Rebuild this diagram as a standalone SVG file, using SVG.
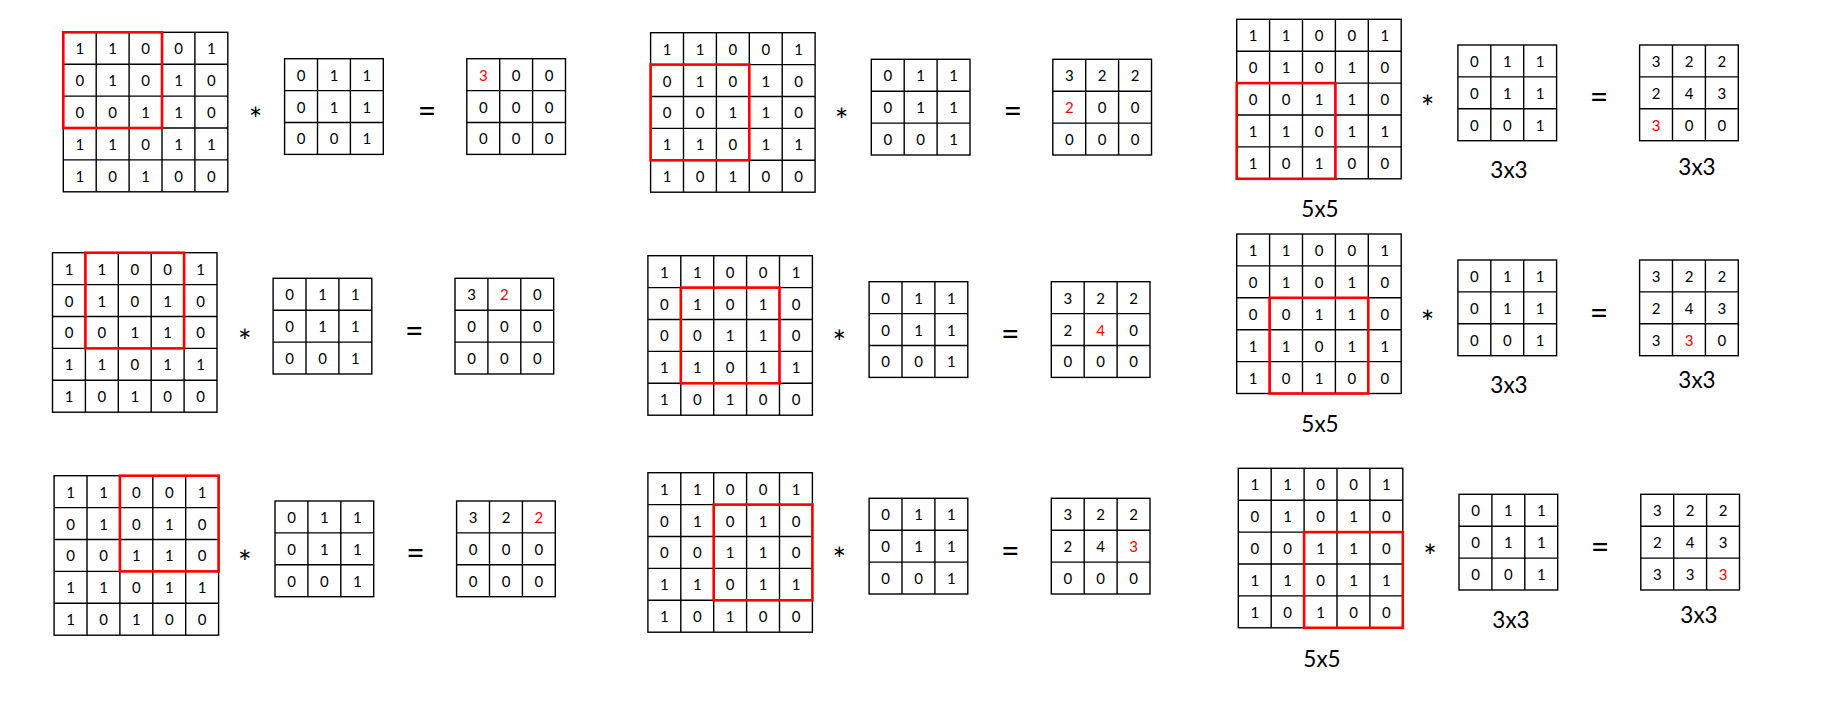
<svg xmlns="http://www.w3.org/2000/svg" xmlns:xlink="http://www.w3.org/1999/xlink" width="1845" height="705" viewBox="0 0 1845 705">
<style>
.grid rect{fill:#fff;stroke:#000;stroke-width:1.4}
.grid path{fill:none;stroke:#000;stroke-width:1.4}
.d text{font-family:Lato,"Open Sans","Liberation Sans",sans-serif;font-size:15px;text-anchor:middle;fill:#000}
.d text.r{fill:#ff0000}
.win{fill:none;stroke:#ff0000;stroke-width:2.6}
.op{font-family:Lato,"Open Sans","Liberation Sans",sans-serif;text-anchor:middle;fill:#000}
.ast{font-size:32px}
.eq{font-size:32px}
.lbl{font-family:Lato,"Open Sans","Liberation Sans",sans-serif;font-size:22.5px;text-anchor:middle;fill:#000}
</style>
<defs>
<g id="g5" class="grid"><rect width="164.5" height="159.5"/><path d="M32.9 0V159.5M65.8 0V159.5M98.7 0V159.5M131.6 0V159.5M0 31.9H164.5M0 63.8H164.5M0 95.7H164.5M0 127.6H164.5"/></g>
<g id="g3" class="grid"><rect width="98.7" height="95.7"/><path d="M32.9 0V95.7M65.8 0V95.7M0 31.9H98.7M0 63.8H98.7"/></g>
</defs>
<rect width="1845" height="705" fill="#fff"/>

<!-- Row 1, Step 1 -->
<g id="step-r1c1">
<g id="in-r1c1" transform="translate(63.3,32.3)"><use xlink:href="#g5"/><g class="d">
<text x="16.5" y="22">1</text><text x="49.4" y="22">1</text><text x="82.3" y="22">0</text><text x="115.2" y="22">0</text><text x="148.1" y="22">1</text>
<text x="16.5" y="53.9">0</text><text x="49.4" y="53.9">1</text><text x="82.3" y="53.9">0</text><text x="115.2" y="53.9">1</text><text x="148.1" y="53.9">0</text>
<text x="16.5" y="85.8">0</text><text x="49.4" y="85.8">0</text><text x="82.3" y="85.8">1</text><text x="115.2" y="85.8">1</text><text x="148.1" y="85.8">0</text>
<text x="16.5" y="117.7">1</text><text x="49.4" y="117.7">1</text><text x="82.3" y="117.7">0</text><text x="115.2" y="117.7">1</text><text x="148.1" y="117.7">1</text>
<text x="16.5" y="149.6">1</text><text x="49.4" y="149.6">0</text><text x="82.3" y="149.6">1</text><text x="115.2" y="149.6">0</text><text x="148.1" y="149.6">0</text>
</g><rect class="win" x="0" y="0" width="98.7" height="95.7"/></g>
<text class="op ast" x="255.5" y="131.2">*</text>
<g id="k-r1c1" transform="translate(284.6,58.7)"><use xlink:href="#g3"/><g class="d">
<text x="16.5" y="22">0</text><text x="49.4" y="22">1</text><text x="82.3" y="22">1</text>
<text x="16.5" y="53.9">0</text><text x="49.4" y="53.9">1</text><text x="82.3" y="53.9">1</text>
<text x="16.5" y="85.8">0</text><text x="49.4" y="85.8">0</text><text x="82.3" y="85.8">1</text>
</g></g>
<text class="op eq" x="427" y="121.5">=</text>
<g id="out-r1c1" transform="translate(466.8,58.7)"><use xlink:href="#g3"/><g class="d">
<text class="r" x="16.5" y="22">3</text><text x="49.4" y="22">0</text><text x="82.3" y="22">0</text>
<text x="16.5" y="53.9">0</text><text x="49.4" y="53.9">0</text><text x="82.3" y="53.9">0</text>
<text x="16.5" y="85.8">0</text><text x="49.4" y="85.8">0</text><text x="82.3" y="85.8">0</text>
</g></g>
</g>

<!-- Row 1, Step 2 -->
<g id="step-r1c2">
<g id="in-r1c2" transform="translate(650.6,32.7)"><use xlink:href="#g5"/><g class="d">
<text x="16.5" y="22">1</text><text x="49.4" y="22">1</text><text x="82.3" y="22">0</text><text x="115.2" y="22">0</text><text x="148.1" y="22">1</text>
<text x="16.5" y="53.9">0</text><text x="49.4" y="53.9">1</text><text x="82.3" y="53.9">0</text><text x="115.2" y="53.9">1</text><text x="148.1" y="53.9">0</text>
<text x="16.5" y="85.8">0</text><text x="49.4" y="85.8">0</text><text x="82.3" y="85.8">1</text><text x="115.2" y="85.8">1</text><text x="148.1" y="85.8">0</text>
<text x="16.5" y="117.7">1</text><text x="49.4" y="117.7">1</text><text x="82.3" y="117.7">0</text><text x="115.2" y="117.7">1</text><text x="148.1" y="117.7">1</text>
<text x="16.5" y="149.6">1</text><text x="49.4" y="149.6">0</text><text x="82.3" y="149.6">1</text><text x="115.2" y="149.6">0</text><text x="148.1" y="149.6">0</text>
</g><rect class="win" x="0" y="31.9" width="98.7" height="95.7"/></g>
<text class="op ast" x="841.5" y="132.2">*</text>
<g id="k-r1c2" transform="translate(871.3,59.3)"><use xlink:href="#g3"/><g class="d">
<text x="16.5" y="22">0</text><text x="49.4" y="22">1</text><text x="82.3" y="22">1</text>
<text x="16.5" y="53.9">0</text><text x="49.4" y="53.9">1</text><text x="82.3" y="53.9">1</text>
<text x="16.5" y="85.8">0</text><text x="49.4" y="85.8">0</text><text x="82.3" y="85.8">1</text>
</g></g>
<text class="op eq" x="1012.7" y="122.2">=</text>
<g id="out-r1c2" transform="translate(1052.8,59.3)"><use xlink:href="#g3"/><g class="d">
<text x="16.5" y="22">3</text><text x="49.4" y="22">2</text><text x="82.3" y="22">2</text>
<text class="r" x="16.5" y="53.9">2</text><text x="49.4" y="53.9">0</text><text x="82.3" y="53.9">0</text>
<text x="16.5" y="85.8">0</text><text x="49.4" y="85.8">0</text><text x="82.3" y="85.8">0</text>
</g></g>
</g>

<!-- Row 1, Step 3 -->
<g id="step-r1c3">
<g id="in-r1c3" transform="translate(1236.7,19.3)"><use xlink:href="#g5"/><g class="d">
<text x="16.5" y="22">1</text><text x="49.4" y="22">1</text><text x="82.3" y="22">0</text><text x="115.2" y="22">0</text><text x="148.1" y="22">1</text>
<text x="16.5" y="53.9">0</text><text x="49.4" y="53.9">1</text><text x="82.3" y="53.9">0</text><text x="115.2" y="53.9">1</text><text x="148.1" y="53.9">0</text>
<text x="16.5" y="85.8">0</text><text x="49.4" y="85.8">0</text><text x="82.3" y="85.8">1</text><text x="115.2" y="85.8">1</text><text x="148.1" y="85.8">0</text>
<text x="16.5" y="117.7">1</text><text x="49.4" y="117.7">1</text><text x="82.3" y="117.7">0</text><text x="115.2" y="117.7">1</text><text x="148.1" y="117.7">1</text>
<text x="16.5" y="149.6">1</text><text x="49.4" y="149.6">0</text><text x="82.3" y="149.6">1</text><text x="115.2" y="149.6">0</text><text x="148.1" y="149.6">0</text>
</g><rect class="win" x="0" y="63.8" width="98.7" height="95.7"/></g>
<text class="lbl" x="1320" y="217.3">5x5</text>
<text class="op ast" x="1427.6" y="119.2">*</text>
<g id="k-r1c3" transform="translate(1457.9,45)"><use xlink:href="#g3"/><g class="d">
<text x="16.5" y="22">0</text><text x="49.4" y="22">1</text><text x="82.3" y="22">1</text>
<text x="16.5" y="53.9">0</text><text x="49.4" y="53.9">1</text><text x="82.3" y="53.9">1</text>
<text x="16.5" y="85.8">0</text><text x="49.4" y="85.8">0</text><text x="82.3" y="85.8">1</text>
</g></g>
<text class="lbl" x="1509" y="178.3">3x3</text>
<text class="op eq" x="1599" y="108.2">=</text>
<g id="out-r1c3" transform="translate(1639.6,45)"><use xlink:href="#g3"/><g class="d">
<text x="16.5" y="22">3</text><text x="49.4" y="22">2</text><text x="82.3" y="22">2</text>
<text x="16.5" y="53.9">2</text><text x="49.4" y="53.9">4</text><text x="82.3" y="53.9">3</text>
<text class="r" x="16.5" y="85.8">3</text><text x="49.4" y="85.8">0</text><text x="82.3" y="85.8">0</text>
</g></g>
<text class="lbl" x="1697" y="175">3x3</text>
</g>

<!-- Row 2, Step 1 -->
<g id="step-r2c1">
<g id="in-r2c1" transform="translate(52.5,252.7)"><use xlink:href="#g5"/><g class="d">
<text x="16.5" y="22">1</text><text x="49.4" y="22">1</text><text x="82.3" y="22">0</text><text x="115.2" y="22">0</text><text x="148.1" y="22">1</text>
<text x="16.5" y="53.9">0</text><text x="49.4" y="53.9">1</text><text x="82.3" y="53.9">0</text><text x="115.2" y="53.9">1</text><text x="148.1" y="53.9">0</text>
<text x="16.5" y="85.8">0</text><text x="49.4" y="85.8">0</text><text x="82.3" y="85.8">1</text><text x="115.2" y="85.8">1</text><text x="148.1" y="85.8">0</text>
<text x="16.5" y="117.7">1</text><text x="49.4" y="117.7">1</text><text x="82.3" y="117.7">0</text><text x="115.2" y="117.7">1</text><text x="148.1" y="117.7">1</text>
<text x="16.5" y="149.6">1</text><text x="49.4" y="149.6">0</text><text x="82.3" y="149.6">1</text><text x="115.2" y="149.6">0</text><text x="148.1" y="149.6">0</text>
</g><rect class="win" x="32.9" y="0" width="98.7" height="95.7"/></g>
<text class="op ast" x="244.7" y="352.7">*</text>
<g id="k-r2c1" transform="translate(273.1,278.3)"><use xlink:href="#g3"/><g class="d">
<text x="16.5" y="22">0</text><text x="49.4" y="22">1</text><text x="82.3" y="22">1</text>
<text x="16.5" y="53.9">0</text><text x="49.4" y="53.9">1</text><text x="82.3" y="53.9">1</text>
<text x="16.5" y="85.8">0</text><text x="49.4" y="85.8">0</text><text x="82.3" y="85.8">1</text>
</g></g>
<text class="op eq" x="414.4" y="342.2">=</text>
<g id="out-r2c1" transform="translate(455,278.3)"><use xlink:href="#g3"/><g class="d">
<text x="16.5" y="22">3</text><text class="r" x="49.4" y="22">2</text><text x="82.3" y="22">0</text>
<text x="16.5" y="53.9">0</text><text x="49.4" y="53.9">0</text><text x="82.3" y="53.9">0</text>
<text x="16.5" y="85.8">0</text><text x="49.4" y="85.8">0</text><text x="82.3" y="85.8">0</text>
</g></g>
</g>

<!-- Row 2, Step 2 -->
<g id="step-r2c2">
<g id="in-r2c2" transform="translate(647.9,255.7)"><use xlink:href="#g5"/><g class="d">
<text x="16.5" y="22">1</text><text x="49.4" y="22">1</text><text x="82.3" y="22">0</text><text x="115.2" y="22">0</text><text x="148.1" y="22">1</text>
<text x="16.5" y="53.9">0</text><text x="49.4" y="53.9">1</text><text x="82.3" y="53.9">0</text><text x="115.2" y="53.9">1</text><text x="148.1" y="53.9">0</text>
<text x="16.5" y="85.8">0</text><text x="49.4" y="85.8">0</text><text x="82.3" y="85.8">1</text><text x="115.2" y="85.8">1</text><text x="148.1" y="85.8">0</text>
<text x="16.5" y="117.7">1</text><text x="49.4" y="117.7">1</text><text x="82.3" y="117.7">0</text><text x="115.2" y="117.7">1</text><text x="148.1" y="117.7">1</text>
<text x="16.5" y="149.6">1</text><text x="49.4" y="149.6">0</text><text x="82.3" y="149.6">1</text><text x="115.2" y="149.6">0</text><text x="148.1" y="149.6">0</text>
</g><rect class="win" x="32.9" y="31.9" width="98.7" height="95.7"/></g>
<text class="op ast" x="839.3" y="354.2">*</text>
<g id="k-r2c2" transform="translate(869.1,281.7)"><use xlink:href="#g3"/><g class="d">
<text x="16.5" y="22">0</text><text x="49.4" y="22">1</text><text x="82.3" y="22">1</text>
<text x="16.5" y="53.9">0</text><text x="49.4" y="53.9">1</text><text x="82.3" y="53.9">1</text>
<text x="16.5" y="85.8">0</text><text x="49.4" y="85.8">0</text><text x="82.3" y="85.8">1</text>
</g></g>
<text class="op eq" x="1010.4" y="344.8">=</text>
<g id="out-r2c2" transform="translate(1051.3,281.7)"><use xlink:href="#g3"/><g class="d">
<text x="16.5" y="22">3</text><text x="49.4" y="22">2</text><text x="82.3" y="22">2</text>
<text x="16.5" y="53.9">2</text><text class="r" x="49.4" y="53.9">4</text><text x="82.3" y="53.9">0</text>
<text x="16.5" y="85.8">0</text><text x="49.4" y="85.8">0</text><text x="82.3" y="85.8">0</text>
</g></g>
</g>

<!-- Row 2, Step 3 -->
<g id="step-r2c3">
<g id="in-r2c3" transform="translate(1236.7,234)"><use xlink:href="#g5"/><g class="d">
<text x="16.5" y="22">1</text><text x="49.4" y="22">1</text><text x="82.3" y="22">0</text><text x="115.2" y="22">0</text><text x="148.1" y="22">1</text>
<text x="16.5" y="53.9">0</text><text x="49.4" y="53.9">1</text><text x="82.3" y="53.9">0</text><text x="115.2" y="53.9">1</text><text x="148.1" y="53.9">0</text>
<text x="16.5" y="85.8">0</text><text x="49.4" y="85.8">0</text><text x="82.3" y="85.8">1</text><text x="115.2" y="85.8">1</text><text x="148.1" y="85.8">0</text>
<text x="16.5" y="117.7">1</text><text x="49.4" y="117.7">1</text><text x="82.3" y="117.7">0</text><text x="115.2" y="117.7">1</text><text x="148.1" y="117.7">1</text>
<text x="16.5" y="149.6">1</text><text x="49.4" y="149.6">0</text><text x="82.3" y="149.6">1</text><text x="115.2" y="149.6">0</text><text x="148.1" y="149.6">0</text>
</g><rect class="win" x="32.9" y="63.8" width="98.7" height="95.7"/></g>
<text class="lbl" x="1320" y="432.3">5x5</text>
<text class="op ast" x="1427.6" y="334.2">*</text>
<g id="k-r2c3" transform="translate(1457.9,260)"><use xlink:href="#g3"/><g class="d">
<text x="16.5" y="22">0</text><text x="49.4" y="22">1</text><text x="82.3" y="22">1</text>
<text x="16.5" y="53.9">0</text><text x="49.4" y="53.9">1</text><text x="82.3" y="53.9">1</text>
<text x="16.5" y="85.8">0</text><text x="49.4" y="85.8">0</text><text x="82.3" y="85.8">1</text>
</g></g>
<text class="lbl" x="1509" y="393.3">3x3</text>
<text class="op eq" x="1599" y="323.5">=</text>
<g id="out-r2c3" transform="translate(1639.6,260)"><use xlink:href="#g3"/><g class="d">
<text x="16.5" y="22">3</text><text x="49.4" y="22">2</text><text x="82.3" y="22">2</text>
<text x="16.5" y="53.9">2</text><text x="49.4" y="53.9">4</text><text x="82.3" y="53.9">3</text>
<text x="16.5" y="85.8">3</text><text class="r" x="49.4" y="85.8">3</text><text x="82.3" y="85.8">0</text>
</g></g>
<text class="lbl" x="1697" y="387.7">3x3</text>
</g>

<!-- Row 3, Step 1 -->
<g id="step-r3c1">
<g id="in-r3c1" transform="translate(54.1,475.7)"><use xlink:href="#g5"/><g class="d">
<text x="16.5" y="22">1</text><text x="49.4" y="22">1</text><text x="82.3" y="22">0</text><text x="115.2" y="22">0</text><text x="148.1" y="22">1</text>
<text x="16.5" y="53.9">0</text><text x="49.4" y="53.9">1</text><text x="82.3" y="53.9">0</text><text x="115.2" y="53.9">1</text><text x="148.1" y="53.9">0</text>
<text x="16.5" y="85.8">0</text><text x="49.4" y="85.8">0</text><text x="82.3" y="85.8">1</text><text x="115.2" y="85.8">1</text><text x="148.1" y="85.8">0</text>
<text x="16.5" y="117.7">1</text><text x="49.4" y="117.7">1</text><text x="82.3" y="117.7">0</text><text x="115.2" y="117.7">1</text><text x="148.1" y="117.7">1</text>
<text x="16.5" y="149.6">1</text><text x="49.4" y="149.6">0</text><text x="82.3" y="149.6">1</text><text x="115.2" y="149.6">0</text><text x="148.1" y="149.6">0</text>
</g><rect class="win" x="65.8" y="0" width="98.7" height="95.7"/></g>
<text class="op ast" x="244.7" y="574.2">*</text>
<g id="k-r3c1" transform="translate(275,501)"><use xlink:href="#g3"/><g class="d">
<text x="16.5" y="22">0</text><text x="49.4" y="22">1</text><text x="82.3" y="22">1</text>
<text x="16.5" y="53.9">0</text><text x="49.4" y="53.9">1</text><text x="82.3" y="53.9">1</text>
<text x="16.5" y="85.8">0</text><text x="49.4" y="85.8">0</text><text x="82.3" y="85.8">1</text>
</g></g>
<text class="op eq" x="415.5" y="563.8">=</text>
<g id="out-r3c1" transform="translate(456.6,501)"><use xlink:href="#g3"/><g class="d">
<text x="16.5" y="22">3</text><text x="49.4" y="22">2</text><text class="r" x="82.3" y="22">2</text>
<text x="16.5" y="53.9">0</text><text x="49.4" y="53.9">0</text><text x="82.3" y="53.9">0</text>
<text x="16.5" y="85.8">0</text><text x="49.4" y="85.8">0</text><text x="82.3" y="85.8">0</text>
</g></g>
</g>

<!-- Row 3, Step 2 -->
<g id="step-r3c2">
<g id="in-r3c2" transform="translate(647.9,472.7)"><use xlink:href="#g5"/><g class="d">
<text x="16.5" y="22">1</text><text x="49.4" y="22">1</text><text x="82.3" y="22">0</text><text x="115.2" y="22">0</text><text x="148.1" y="22">1</text>
<text x="16.5" y="53.9">0</text><text x="49.4" y="53.9">1</text><text x="82.3" y="53.9">0</text><text x="115.2" y="53.9">1</text><text x="148.1" y="53.9">0</text>
<text x="16.5" y="85.8">0</text><text x="49.4" y="85.8">0</text><text x="82.3" y="85.8">1</text><text x="115.2" y="85.8">1</text><text x="148.1" y="85.8">0</text>
<text x="16.5" y="117.7">1</text><text x="49.4" y="117.7">1</text><text x="82.3" y="117.7">0</text><text x="115.2" y="117.7">1</text><text x="148.1" y="117.7">1</text>
<text x="16.5" y="149.6">1</text><text x="49.4" y="149.6">0</text><text x="82.3" y="149.6">1</text><text x="115.2" y="149.6">0</text><text x="148.1" y="149.6">0</text>
</g><rect class="win" x="65.8" y="31.9" width="98.7" height="95.7"/></g>
<text class="op ast" x="839.3" y="570.9">*</text>
<g id="k-r3c2" transform="translate(869.1,498.3)"><use xlink:href="#g3"/><g class="d">
<text x="16.5" y="22">0</text><text x="49.4" y="22">1</text><text x="82.3" y="22">1</text>
<text x="16.5" y="53.9">0</text><text x="49.4" y="53.9">1</text><text x="82.3" y="53.9">1</text>
<text x="16.5" y="85.8">0</text><text x="49.4" y="85.8">0</text><text x="82.3" y="85.8">1</text>
</g></g>
<text class="op eq" x="1010.4" y="561.5">=</text>
<g id="out-r3c2" transform="translate(1051.3,498.3)"><use xlink:href="#g3"/><g class="d">
<text x="16.5" y="22">3</text><text x="49.4" y="22">2</text><text x="82.3" y="22">2</text>
<text x="16.5" y="53.9">2</text><text x="49.4" y="53.9">4</text><text class="r" x="82.3" y="53.9">3</text>
<text x="16.5" y="85.8">0</text><text x="49.4" y="85.8">0</text><text x="82.3" y="85.8">0</text>
</g></g>
</g>

<!-- Row 3, Step 3 -->
<g id="step-r3c3">
<g id="in-r3c3" transform="translate(1238.3,468.3)"><use xlink:href="#g5"/><g class="d">
<text x="16.5" y="22">1</text><text x="49.4" y="22">1</text><text x="82.3" y="22">0</text><text x="115.2" y="22">0</text><text x="148.1" y="22">1</text>
<text x="16.5" y="53.9">0</text><text x="49.4" y="53.9">1</text><text x="82.3" y="53.9">0</text><text x="115.2" y="53.9">1</text><text x="148.1" y="53.9">0</text>
<text x="16.5" y="85.8">0</text><text x="49.4" y="85.8">0</text><text x="82.3" y="85.8">1</text><text x="115.2" y="85.8">1</text><text x="148.1" y="85.8">0</text>
<text x="16.5" y="117.7">1</text><text x="49.4" y="117.7">1</text><text x="82.3" y="117.7">0</text><text x="115.2" y="117.7">1</text><text x="148.1" y="117.7">1</text>
<text x="16.5" y="149.6">1</text><text x="49.4" y="149.6">0</text><text x="82.3" y="149.6">1</text><text x="115.2" y="149.6">0</text><text x="148.1" y="149.6">0</text>
</g><rect class="win" x="65.8" y="63.8" width="98.7" height="95.7"/></g>
<text class="lbl" x="1322" y="666.7">5x5</text>
<text class="op ast" x="1430" y="567.5">*</text>
<g id="k-r3c3" transform="translate(1459,494.3)"><use xlink:href="#g3"/><g class="d">
<text x="16.5" y="22">0</text><text x="49.4" y="22">1</text><text x="82.3" y="22">1</text>
<text x="16.5" y="53.9">0</text><text x="49.4" y="53.9">1</text><text x="82.3" y="53.9">1</text>
<text x="16.5" y="85.8">0</text><text x="49.4" y="85.8">0</text><text x="82.3" y="85.8">1</text>
</g></g>
<text class="lbl" x="1511" y="627.7">3x3</text>
<text class="op eq" x="1600" y="558.2">=</text>
<g id="out-r3c3" transform="translate(1640.8,494.3)"><use xlink:href="#g3"/><g class="d">
<text x="16.5" y="22">3</text><text x="49.4" y="22">2</text><text x="82.3" y="22">2</text>
<text x="16.5" y="53.9">2</text><text x="49.4" y="53.9">4</text><text x="82.3" y="53.9">3</text>
<text x="16.5" y="85.8">3</text><text x="49.4" y="85.8">3</text><text class="r" x="82.3" y="85.8">3</text>
</g></g>
<text class="lbl" x="1699" y="622.7">3x3</text>
</g>

<g id="connectors"></g>
</svg>
